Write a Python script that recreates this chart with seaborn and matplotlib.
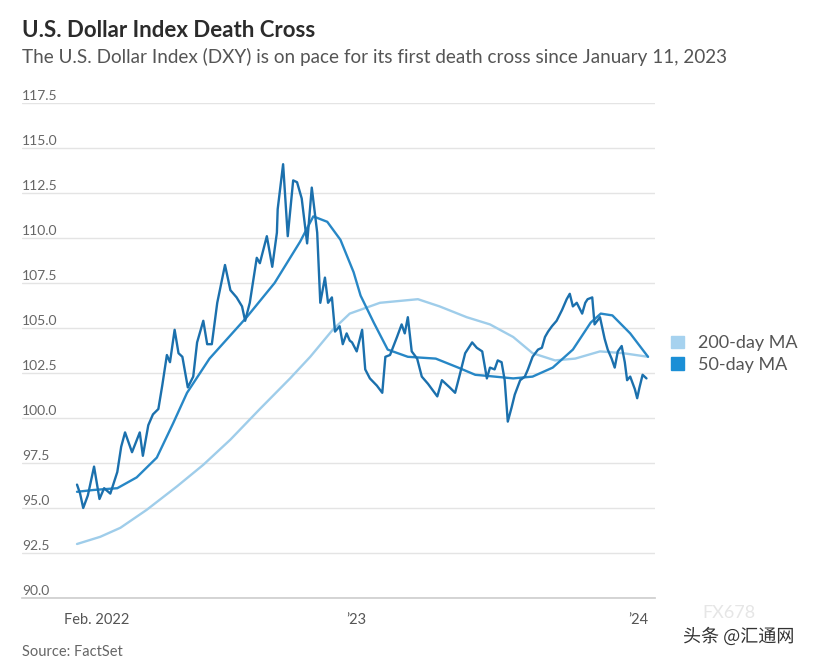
"""U.S. Dollar Index death cross chart"""

import matplotlib
matplotlib.use("Agg")
import matplotlib.pyplot as plt
import matplotlib.dates as mdates
from matplotlib.patches import Patch
import matplotlib.patheffects as pe
import seaborn as sns
import pandas as pd

# DXY daily close
dxy_dates = [
    "2022-01-06", "2022-01-10", "2022-01-14", "2022-01-20", "2022-01-28", "2022-02-04",
    "2022-02-10", "2022-02-18", "2022-02-27", "2022-03-04", "2022-03-09", "2022-03-18",
    "2022-03-28", "2022-04-01", "2022-04-08", "2022-04-14", "2022-04-21", "2022-04-26",
    "2022-05-02", "2022-05-06", "2022-05-12", "2022-05-17", "2022-05-22", "2022-05-29",
    "2022-06-05", "2022-06-10", "2022-06-18", "2022-06-23", "2022-06-29", "2022-07-06",
    "2022-07-16", "2022-07-23", "2022-07-31", "2022-08-07", "2022-08-11", "2022-08-17",
    "2022-08-26", "2022-08-30", "2022-09-08", "2022-09-15", "2022-09-21", "2022-09-22",
    "2022-09-29", "2022-10-05", "2022-10-12", "2022-10-17", "2022-10-23", "2022-10-30",
    "2022-11-05", "2022-11-12", "2022-11-16", "2022-11-22", "2022-11-26", "2022-12-01",
    "2022-12-05", "2022-12-11", "2022-12-15", "2022-12-20", "2022-12-24", "2022-12-27",
    "2023-01-02", "2023-01-09", "2023-01-13", "2023-01-19", "2023-01-28", "2023-02-04",
    "2023-02-08", "2023-02-14", "2023-02-23", "2023-03-01", "2023-03-05", "2023-03-09",
    "2023-03-14", "2023-03-21", "2023-03-27", "2023-04-04", "2023-04-16", "2023-04-22",
    "2023-05-02", "2023-05-09", "2023-05-15", "2023-05-22", "2023-05-31", "2023-06-06",
    "2023-06-13", "2023-06-19", "2023-06-23", "2023-06-29", "2023-07-03", "2023-07-08",
    "2023-07-12", "2023-07-16", "2023-07-21", "2023-07-25", "2023-08-01", "2023-08-07",
    "2023-08-11", "2023-08-17", "2023-08-24", "2023-08-29", "2023-09-02", "2023-09-06",
    "2023-09-11", "2023-09-17", "2023-09-24", "2023-09-30", "2023-10-04", "2023-10-08",
    "2023-10-13", "2023-10-20", "2023-10-24", "2023-10-27", "2023-11-02", "2023-11-05",
    "2023-11-12", "2023-11-18", "2023-11-22", "2023-11-27", "2023-12-01", "2023-12-05",
    "2023-12-10", "2023-12-14", "2023-12-17", "2023-12-21", "2023-12-27", "2023-12-30",
    "2024-01-02", "2024-01-06", "2024-01-11",
]
dxy_values = [
    96.3, 95.8, 95.0, 95.7, 97.3, 95.5,
    96.1, 95.8, 97.0, 98.4, 99.2, 98.1,
    99.2, 97.9, 99.6, 100.2, 100.5, 101.8,
    103.5, 103.1, 104.9, 103.6, 103.4, 101.7,
    102.3, 104.2, 105.4, 104.1, 104.1, 106.4,
    108.5, 107.1, 106.7, 106.2, 105.4, 106.4,
    108.9, 108.6, 110.1, 108.4, 110.3, 111.6,
    114.1, 110.1, 113.2, 113.1, 112.2, 109.7,
    112.8, 110.3, 106.4, 107.8, 106.4, 106.7,
    104.8, 105.1, 104.1, 104.7, 104.3, 104.2,
    103.7, 104.9, 102.7, 102.2, 101.8, 101.4,
    103.4, 103.5, 104.5, 105.2, 104.7, 105.6,
    103.7, 103.3, 102.3, 101.9, 101.2, 102.1,
    101.7, 101.4, 102.4, 103.6, 104.2, 103.9,
    103.7, 102.2, 102.8, 102.7, 103.2, 103.1,
    102.1, 99.8, 100.6, 101.3, 102.1, 102.3,
    102.7, 103.4, 103.8, 103.9, 104.5, 104.8,
    105.1, 105.4, 106.0, 106.6, 106.9, 106.2,
    106.4, 105.8, 106.4, 106.6, 106.7, 105.2,
    105.6, 104.4, 103.8, 103.3, 102.8, 103.7,
    104.0, 103.1, 102.1, 102.3, 101.6, 101.1,
    101.7, 102.4, 102.2,
]

# 200-day moving average
ma200_dates = [
    "2022-01-06", "2022-02-05", "2022-03-03", "2022-04-06", "2022-05-15", "2022-06-18",
    "2022-07-23", "2022-08-30", "2022-10-08", "2022-11-03", "2022-12-02", "2022-12-24",
    "2023-02-01", "2023-03-22", "2023-04-19", "2023-05-24", "2023-06-23", "2023-07-23",
    "2023-08-17", "2023-09-15", "2023-10-11", "2023-11-12", "2023-12-12", "2024-01-13",
]
ma200_values = [
    93.0, 93.4, 93.9, 94.9, 96.2, 97.4,
    98.8, 100.5, 102.2, 103.4, 104.9, 105.8,
    106.4, 106.6, 106.2, 105.6, 105.2, 104.5,
    103.6, 103.2, 103.3, 103.7, 103.6, 103.4,
]

# 50-day moving average
ma50_dates = [
    "2022-01-06", "2022-01-27", "2022-02-27", "2022-03-24", "2022-04-19", "2022-05-10",
    "2022-05-28", "2022-06-26", "2022-08-13", "2022-09-18", "2022-10-21", "2022-11-07",
    "2022-11-25", "2022-12-12", "2022-12-29", "2023-01-07", "2023-01-24", "2023-02-11",
    "2023-03-09", "2023-04-14", "2023-05-13", "2023-06-04", "2023-06-29", "2023-07-23",
    "2023-08-17", "2023-09-12", "2023-10-08", "2023-10-31", "2023-11-13", "2023-11-28",
    "2023-12-21", "2024-01-13",
]
ma50_values = [
    95.9, 96.0, 96.1, 96.7, 97.8, 99.7,
    101.4, 103.3, 105.6, 107.5, 109.8, 111.2,
    110.9, 109.9, 108.1, 106.8, 105.3, 103.8,
    103.4, 103.3, 102.8, 102.4, 102.3, 102.2,
    102.3, 102.8, 103.8, 105.3, 105.8, 105.7,
    104.7, 103.4,
]

y_ticks = [90.0, 92.5, 95.0, 97.5, 100.0, 102.5, 105.0, 107.5, 110.0, 112.5, 115.0, 117.5]
x_tick_dates = ["2022-02-01", "2023-01-01", "2024-01-01"]
x_tick_labels = ["Feb. 2022", "\u201923", "\u201924"]

dxy_color = '#1b70ad'
ma50_color = '#2787c6'
ma200_color = '#9fcdea'

sns.set_theme(style="white")
plt.rcParams['font.family'] = ['Lato', 'DejaVu Sans']

fig = plt.figure(figsize=(8.23, 6.66), dpi=100)
ax = fig.add_axes([22 / 823, 68 / 666, 633 / 823, 495 / 666])

sns.lineplot(x=pd.to_datetime(ma200_dates), y=ma200_values, ax=ax,
             color=ma200_color, lw=1.7)
sns.lineplot(x=pd.to_datetime(ma50_dates), y=ma50_values, ax=ax,
             color=ma50_color, lw=1.7)
sns.lineplot(x=pd.to_datetime(dxy_dates), y=dxy_values, ax=ax,
             color=dxy_color, lw=1.7)

ax.set_xlim(pd.Timestamp("2021-10-27"), pd.Timestamp("2024-01-22"))
ax.set_ylim(90, 117.5)

# y grid with labels sitting on top of the lines
ax.set_yticks(y_ticks)
ax.set_yticklabels([])
ax.tick_params(axis='y', length=0)
ax.grid(axis='y', color='#e4e4e4', lw=1)
ax.grid(axis='x', visible=False)
for v in y_ticks:
    ax.text(0, v + 0.08, f"{v:.1f}", transform=ax.get_yaxis_transform(),
            ha='left', va='bottom', fontsize=10, color='#666666')

for side in ['left', 'right', 'top']:
    ax.spines[side].set_visible(False)
ax.spines['bottom'].set_color('#cfcfcf')

ax.set_xticks(pd.to_datetime(x_tick_dates))
ax.set_xticklabels(x_tick_labels, fontsize=10.5, color='#555555')
ax.xaxis.set_minor_locator(mdates.MonthLocator(bymonthday=1))
ax.tick_params(axis='x', which='major', length=5, width=0.8, color='#999999', pad=6)
ax.tick_params(axis='x', which='minor', length=3, width=0.8, color='#bbbbbb')
ax.set_xlabel('')
ax.set_ylabel('')

# legend with square markers
handles = [Patch(color='#a6d2ef', label='200-day MA'),
           Patch(color='#1b8fd6', label='50-day MA')]
fig.legend(handles=handles, loc='center left', bbox_to_anchor=(655 / 823, 1 - 354 / 666),
           frameon=False, handlelength=0.7, handleheight=0.7, handletextpad=0.8,
           labelspacing=0.3, fontsize=13, labelcolor='#555555')

fig.text(22 / 823, 1 - 37 / 666, "U.S. Dollar Index Death Cross", fontsize=16,
         fontweight='bold', color='#2b2b2b', va='baseline')
fig.text(22 / 823, 1 - 63 / 666,
         "The U.S. Dollar Index (DXY) is on pace for its first death cross since January 11, 2023",
         fontsize=13.6, color='#555555', va='baseline')
fig.text(22 / 823, 1 - 656 / 666, "Source: FactSet", fontsize=10.5, color='#666666',
         va='baseline')

# watermark
fig.text(702 / 823, 1 - 618 / 666, "FX678", fontsize=13, color='#e6e6e6', va='baseline')
fig.text(683 / 823, 1 - 642 / 666, "头条 @汇通网", fontsize=13, color='#333333',
         va='baseline', family=['Noto Sans CJK SC', 'DejaVu Sans'],
         path_effects=[pe.withStroke(linewidth=2.5, foreground='white')])

fig.savefig("out.png", dpi=100)
